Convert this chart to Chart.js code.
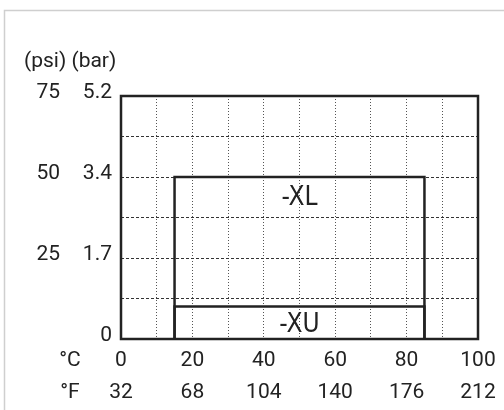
<!DOCTYPE html>
<html>
<head>
<meta charset="utf-8">
<script src="https://cdn.jsdelivr.net/npm/chart.js@4.4.1/dist/chart.umd.min.js"></script>
<style>
  html, body { margin: 0; padding: 0; background: #fff; }
  #wrap { width: 504px; height: 410px; position: relative; }
</style>
</head>
<body>
<div id="wrap"><canvas id="chart"></canvas></div>
<script>
// temperature axis (°C) and the matching °F labels
const celsiusTicks = [0, 20, 40, 60, 80, 100];
const fahrenheitTicks = ["32", "68", "104", "140", "176", "212"];

// pressure axis, values in psi, with the bar labels beside them
const psiTicks = [0, 25, 50, 75];
const psiLabels = ["", "25", "50", "75"];
const barLabels = ["0", "1.7", "3.4", "5.2"];

// -XL range (corners, °C / psi)
const xlTemps = [15, 15, 85, 85];
const xlPsi = [0, 50, 50, 0];

// -XU range
const xuTemps = [15, 15, 85, 85];
const xuPsi = [0, 10, 10, 0];

// region labels
const regionNames = ["-XL", "-XU"];
const regionTemps = [50, 50];
const regionPsi = [43.5, 4.3];

const toPoints = (xs, ys) => xs.map((x, i) => ({ x: x, y: ys[i] }));

const tickFont = "21px Roboto, 'DejaVu Sans', sans-serif";
const ink = "#222";

const labelsPlugin = {
  id: "labels",
  beforeDraw(chart) {
    const ctx = chart.ctx;
    // light frame round the figure
    ctx.save();
    ctx.strokeStyle = "#cfcfcf";
    ctx.lineWidth = 1.5;
    ctx.beginPath();
    ctx.moveTo(4.5, 410);
    ctx.lineTo(4.5, 10.5);
    ctx.lineTo(504, 10.5);
    ctx.stroke();
    ctx.restore();
  },
  afterDraw(chart) {
    const ctx = chart.ctx;
    const x = chart.scales.x;
    const y = chart.scales.y;
    const area = chart.chartArea;

    ctx.save();
    ctx.strokeStyle = ink;
    ctx.lineWidth = 2.5;
    ctx.strokeRect(area.left, area.top, area.right - area.left, area.bottom - area.top);

    ctx.fillStyle = ink;
    ctx.font = tickFont;
    ctx.textBaseline = "middle";

    // x tick labels
    ctx.textAlign = "center";
    celsiusTicks.forEach((c, i) => {
      const px = x.getPixelForValue(c);
      ctx.fillText(String(c), px, 361);
      ctx.fillText(fahrenheitTicks[i], px, 393);
    });
    ctx.fillText("°C", 70, 361);
    ctx.fillText("°F", 70, 393);

    // y tick labels
    ctx.textAlign = "right";
    psiTicks.forEach((p, i) => {
      const py = y.getPixelForValue(p) - 3;
      ctx.fillText(psiLabels[i], 60, py);
      ctx.fillText(barLabels[i], 112, py);
    });

    ctx.textAlign = "left";
    ctx.fillText("(psi) (bar)", 24, 62);

    // region names
    ctx.textAlign = "center";
    ctx.font = "26px 'Liberation Sans Narrow', 'DejaVu Sans Condensed', sans-serif";
    regionNames.forEach((name, i) => {
      ctx.fillText(name, x.getPixelForValue(regionTemps[i]), y.getPixelForValue(regionPsi[i]));
    });
    ctx.restore();
  }
};

new Chart(document.getElementById("chart"), {
  type: "scatter",
  data: {
    datasets: [
      {
        label: "-XL",
        data: toPoints(xlTemps, xlPsi),
        showLine: true,
        borderColor: ink,
        borderWidth: 2.5,
        pointRadius: 0,
        fill: false,
        tension: 0
      },
      {
        label: "-XU",
        data: toPoints(xuTemps, xuPsi),
        showLine: true,
        borderColor: ink,
        borderWidth: 2.5,
        pointRadius: 0,
        fill: false,
        tension: 0
      }
    ]
  },
  options: {
    responsive: true,
    maintainAspectRatio: false,
    animation: false,
    layout: { padding: { left: 121, right: 26, top: 96, bottom: 71 } },
    plugins: { legend: { display: false }, tooltip: { enabled: false } },
    scales: {
      x: {
        type: "linear",
        min: 0,
        max: 100,
        ticks: { display: false, stepSize: 10 },
        grid: { color: "#555", lineWidth: 1, drawTicks: false },
        border: { display: false, dash: [1, 2] }
      },
      y: {
        type: "linear",
        min: 0,
        max: 75,
        ticks: { display: false, stepSize: 12.5 },
        grid: { color: "#333", lineWidth: 1, drawTicks: false },
        border: { display: false, dash: [3, 2] }
      }
    }
  },
  plugins: [labelsPlugin]
});
</script>
</body>
</html>
